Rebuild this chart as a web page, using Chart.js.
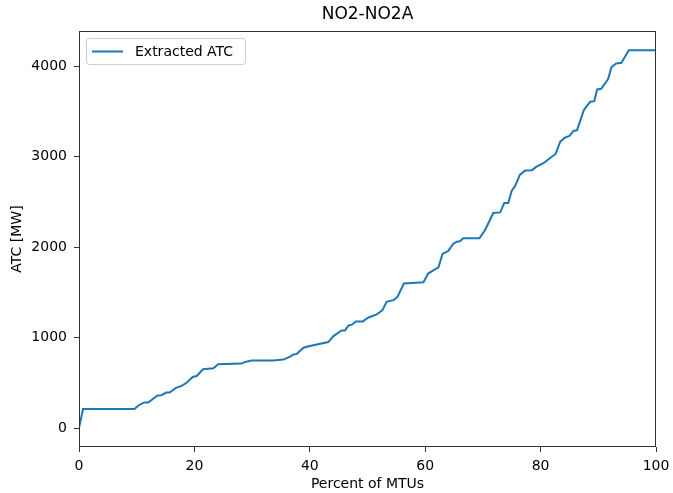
<!DOCTYPE html>
<html>
<head>
<meta charset="utf-8">
<script src="https://cdn.jsdelivr.net/npm/chart.js@4"></script>
<style>
  html, body { margin: 0; padding: 0; background: #fff; }
  #wrap { width: 673px; height: 493px; }
</style>
</head>
<body>
<div id="wrap"><canvas id="myChart" width="673" height="493"></canvas></div>
<script>
// ATC curve
const pctValues = [0, 0.7, 9.6, 10.3, 11.3, 12, 13.6, 14.3, 15.1, 15.7, 16.8, 17.8, 18.7, 19.7, 20.4, 21.5, 23.3, 24.1, 28.2, 28.8, 29.9, 33.7, 35.4, 36.6, 37.1, 37.7, 38.9, 40, 43.2, 44.1, 45.5, 46.1, 46.7, 47.3, 48, 49.2, 50.1, 51.6, 52.6, 53.3, 54.5, 55.2, 56.3, 59.7, 60.5, 61.4, 62.3, 63, 64, 64.9, 65.5, 66, 66.6, 69.4, 70.4, 71.8, 73, 73.7, 74.4, 75, 75.6, 76.4, 77.3, 78.5, 79.3, 80.5, 81.6, 82.6, 83.4, 84.2, 85, 85.7, 86.3, 87.5, 88.6, 89.3, 89.8, 90.5, 91.7, 92.3, 93.1, 94, 95.3, 100];
const atcValues = [0, 210, 210, 250, 283, 283, 360, 364, 393, 393, 444, 466, 503, 565, 576, 650, 661, 705, 713, 731, 746, 746, 757, 790, 812, 819, 889, 907, 951, 1017, 1080, 1080, 1135, 1143, 1179, 1179, 1220, 1256, 1304, 1396, 1414, 1451, 1598, 1612, 1708, 1744, 1777, 1925, 1958, 2040, 2060, 2064, 2097, 2097, 2193, 2377, 2384, 2487, 2487, 2623, 2678, 2799, 2846, 2851, 2890, 2928, 2983, 3030, 3166, 3210, 3229, 3284, 3291, 3515, 3607, 3614, 3743, 3750, 3857, 3993, 4030, 4037, 4177, 4177];
const xTicks = [0, 20, 40, 60, 80, 100];
const yTicks = [0, 1000, 2000, 3000, 4000];
const seriesName = "Extracted ATC";
const chartTitle = "NO2-NO2A";
const xLabel = "Percent of MTUs";
const yLabel = "ATC [MW]";

const FONT = "DejaVu Sans";
const points = pctValues.map((p, i) => ({x: p, y: atcValues[i]}));

const decor = {
  id: "decor",
  afterDraw(chart) {
    const {ctx, chartArea: a} = chart;
    ctx.save();
    // frame
    ctx.strokeStyle = "#333";
    ctx.lineWidth = 1;
    ctx.strokeRect(a.left + 0.5, a.top + 0.5, a.right - a.left - 1, a.bottom - a.top - 1);
    ctx.fillStyle = "#000";
    // title
    ctx.font = "17px '" + FONT + "'";
    ctx.textAlign = "center";
    ctx.textBaseline = "middle";
    ctx.fillText(chartTitle, (a.left + a.right) / 2, 15);
    // axis titles
    ctx.font = "14px '" + FONT + "'";
    ctx.fillText(xLabel, (a.left + a.right) / 2, 484);
    ctx.translate(17, (a.top + a.bottom) / 2);
    ctx.rotate(-Math.PI / 2);
    ctx.fillText(yLabel, 0, 0);
    ctx.restore();
    // legend
    ctx.save();
    const bx = a.left + 7, by = a.top + 7, bw = 159, bh = 26;
    ctx.fillStyle = "rgba(255,255,255,0.8)";
    ctx.strokeStyle = "#cccccc";
    ctx.lineWidth = 1;
    ctx.beginPath();
    ctx.roundRect(bx + 0.5, by + 0.5, bw, bh, 3);
    ctx.fill();
    ctx.stroke();
    ctx.strokeStyle = "#1f77b4";
    ctx.lineWidth = 2;
    ctx.beginPath();
    ctx.moveTo(bx + 6, by + 13.5);
    ctx.lineTo(bx + 37, by + 13.5);
    ctx.stroke();
    ctx.fillStyle = "#000";
    ctx.font = "14px '" + FONT + "'";
    ctx.textBaseline = "middle";
    ctx.fillText(seriesName, bx + 49, by + 14);
    ctx.restore();
  }
};

new Chart("myChart", {
  type: "line",
  data: {
    datasets: [{
      label: seriesName,
      data: points,
      borderColor: "#1f77b4",
      borderWidth: 2,
      pointRadius: 0,
      tension: 0,
      fill: false
    }]
  },
  options: {
    responsive: false,
    animation: false,
    layout: {padding: {top: 31, right: 17, left: 0, bottom: 0}},
    plugins: {legend: {display: false}, title: {display: false}, tooltip: {enabled: false}},
    scales: {
      x: {
        type: "linear",
        min: 0, max: 100,
        afterBuildTicks: s => { s.ticks = xTicks.map(v => ({value: v})); },
        afterFit: s => { s.height = 46; s.paddingLeft = 0; s.paddingRight = 0; },
        grid: {drawOnChartArea: false, drawTicks: true, tickLength: 5, color: "#333"},
        border: {display: false},
        ticks: {color: "#000", padding: 6, maxRotation: 0, font: {family: FONT, size: 14},
                callback: v => String(v)}
      },
      y: {
        type: "linear",
        min: -209, max: 4389,
        afterBuildTicks: s => { s.ticks = yTicks.map(v => ({value: v})); },
        afterFit: s => { s.width = 79; s.paddingTop = 0; s.paddingBottom = 0; },
        grid: {drawOnChartArea: false, drawTicks: true, tickLength: 5, color: "#333"},
        border: {display: false},
        ticks: {color: "#000", padding: 7, font: {family: FONT, size: 14},
                callback: v => String(v)}
      }
    }
  },
  plugins: [decor]
});
</script>
</body>
</html>
